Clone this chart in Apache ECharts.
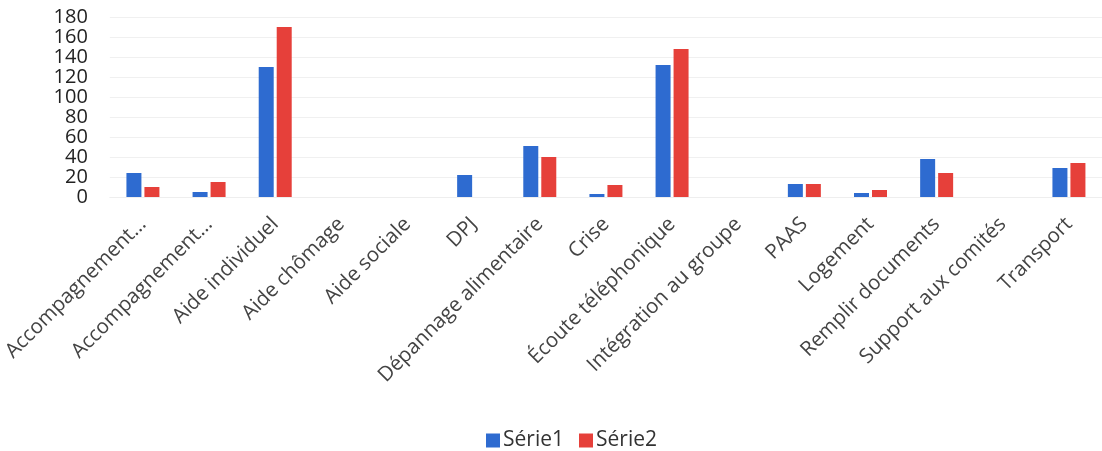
<!DOCTYPE html>
<html><head><meta charset="utf-8">
<script src="https://cdn.jsdelivr.net/npm/echarts@6/dist/echarts.min.js"></script>
<style>html,body{margin:0;padding:0;background:#fff}#c{width:1102px;height:451px}</style>
</head><body><div id="c"></div>
<script>
const categories = ["Accompagnement…","Accompagnement…","Aide individuel","Aide chômage","Aide sociale","DPJ","Dépannage alimentaire","Crise","Écoute téléphonique","Intégration au groupe","PAAS","Logement","Remplir documents","Support aux comités","Transport"];
const serie1 = [24,5,130,0,0,22,51,3,132,0,13,4,38,0,29];
const serie2 = [10,15,170,0,0,0,40,12,148,0,13,7,24,0,34];
const seriesNames = ["Série1","Série2"];
const font = "'Open Sans', 'Noto Sans', sans-serif";
const chart = echarts.init(document.getElementById('c'));
chart.setOption({
  animation:false,
  grid:{left:108, top:17, width:1008, height:180, containLabel:false},
  legend:{top:425, left:481, itemWidth:14, itemHeight:14, itemGap:15, icon:'rect',
    textStyle:{fontFamily:font, fontSize:21, color:'#333', padding:[0,0,0,-2]}},
  xAxis:{type:'category', data:categories,
    axisLine:{show:true, lineStyle:{color:'#eeeeee'}}, axisTick:{show:false},
    axisLabel:{interval:0, rotate:45, fontFamily:font, fontSize:20.5, color:'#444', margin:24}},
  yAxis:{type:'value', min:0, max:180, interval:20,
    axisLine:{show:false}, axisTick:{show:false},
    splitLine:{lineStyle:{color:'#f0f0f0'}},
    axisLabel:{fontFamily:font, fontSize:20, color:'#222', margin:22}},
  series:[
    {name:seriesNames[0], type:'bar', data:serie1, barWidth:15, barGap:'20%', itemStyle:{color:'#2E6BD0'}},
    {name:seriesNames[1], type:'bar', data:serie2, barWidth:15, barGap:'20%', itemStyle:{color:'#E6403A'}}
  ]
});
</script></body></html>
